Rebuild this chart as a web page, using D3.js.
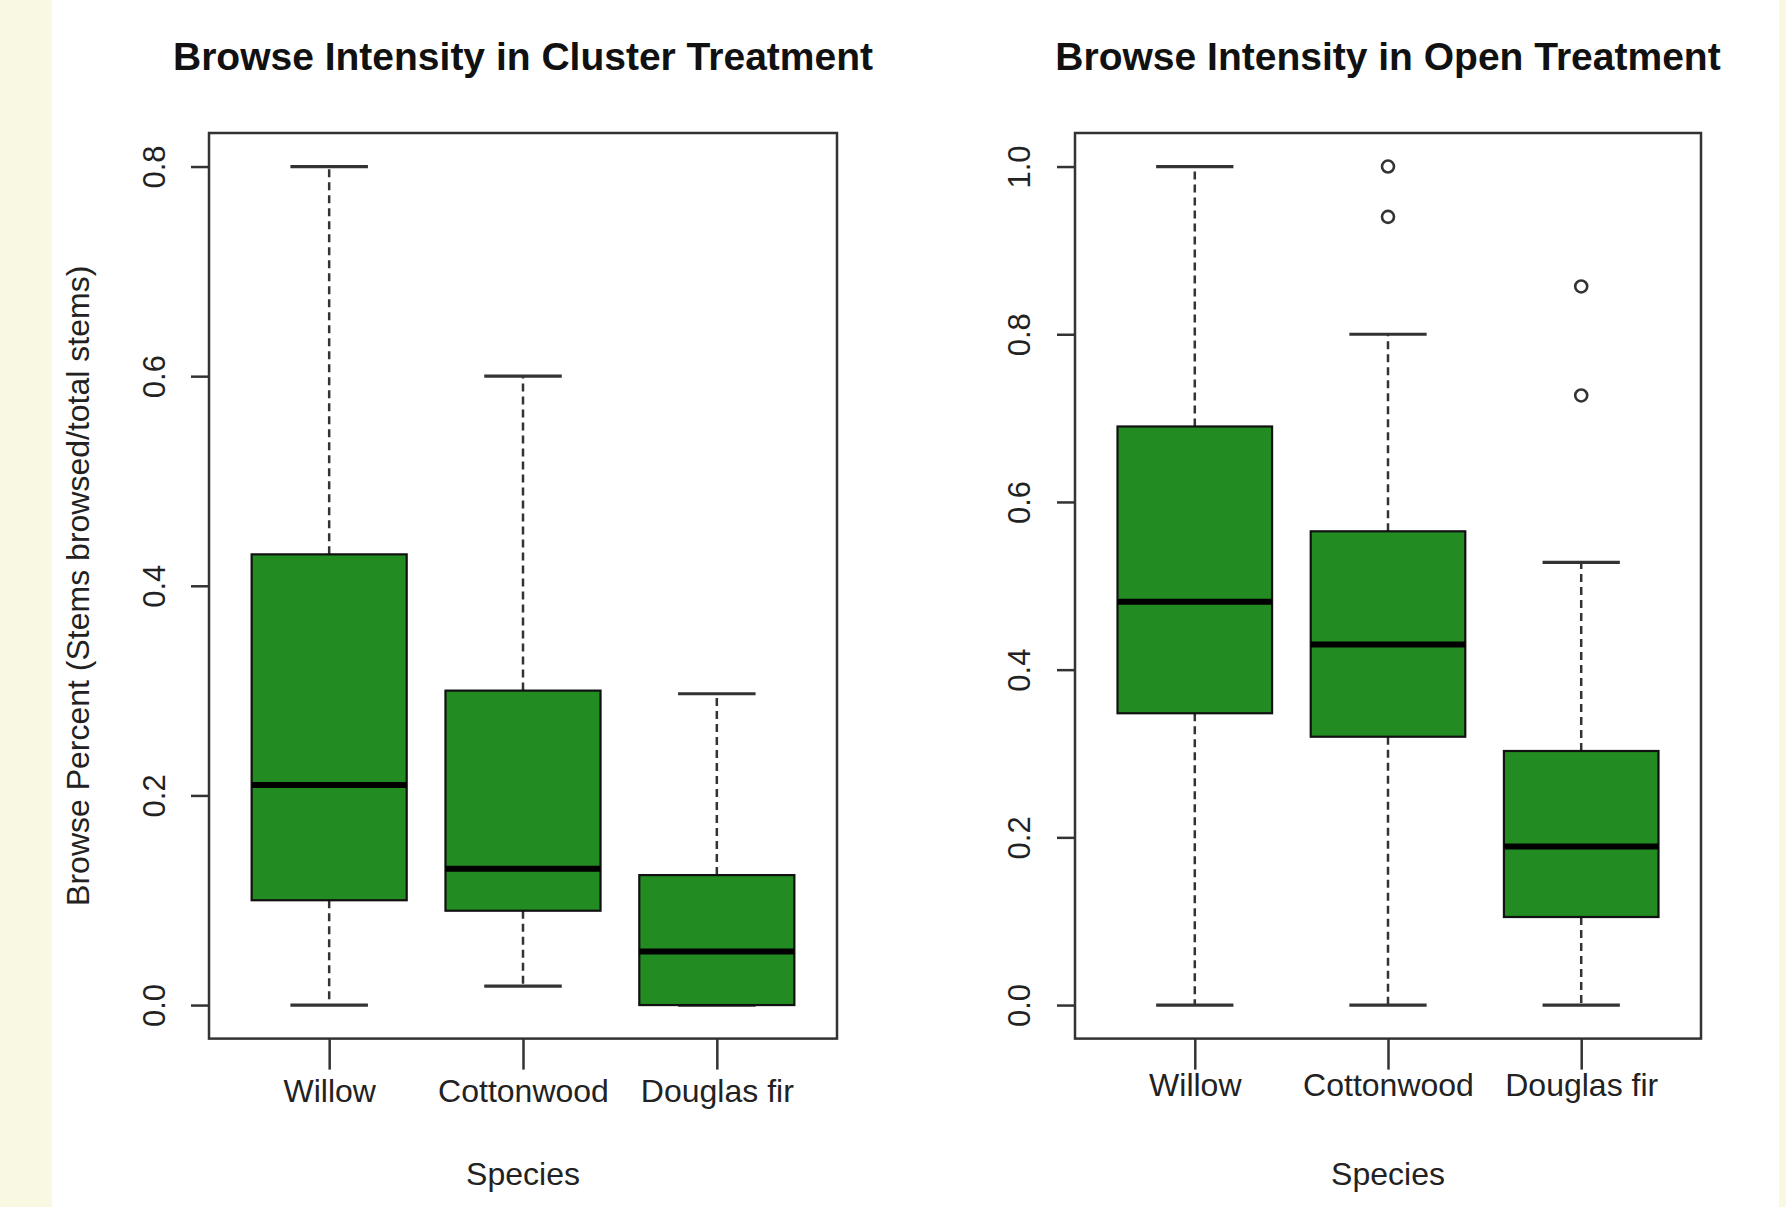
<!DOCTYPE html>
<html lang="en">
<head>
    <meta charset="UTF-8">
    <title>Browse Intensity</title>
    <script src="https://d3js.org/d3.v7.min.js"></script>
    <style>
        body { margin: 0; background: #ffffff; }
        svg { display: block; font-family: "Liberation Sans", Arial, sans-serif; }
        .title { font-size: 39px; font-weight: bold; fill: #111; text-anchor: middle; }
        .axis-label { font-size: 32px; fill: #222; text-anchor: middle; }
        .axis text { font-size: 31px; fill: #222; font-family: "Liberation Sans", Arial, sans-serif; }
        .axis line { stroke: #333; stroke-width: 2.5; }
        .frame { fill: none; stroke: #333; stroke-width: 2.5; }
        .whisker { stroke: #333; stroke-width: 2.5; stroke-dasharray: 8,5; }
        .cap { stroke: #333; stroke-width: 3.2; }
        .box { fill: #228B22; stroke: #111; stroke-width: 2.2; }
        .median { stroke: #000; stroke-width: 6; }
        .outlier { fill: none; stroke: #333; stroke-width: 2.6; }
    </style>
</head>
<body>
    <svg width="1786" height="1207"></svg>
    <script>
        // data
        const species = ["Willow", "Cottonwood", "Douglas fir"];

        const clusterLow    = [0.000, 0.018, 0.000];
        const clusterQ1     = [0.100, 0.090, 0.000];
        const clusterMedian = [0.210, 0.130, 0.051];
        const clusterQ3     = [0.430, 0.300, 0.124];
        const clusterHigh   = [0.800, 0.600, 0.297];
        const clusterOut    = [[], [], []];
        const clusterTicks  = [0.0, 0.2, 0.4, 0.6, 0.8];

        const openLow    = [0.000, 0.000, 0.000];
        const openQ1     = [0.348, 0.320, 0.105];
        const openMedian = [0.481, 0.430, 0.189];
        const openQ3     = [0.690, 0.565, 0.303];
        const openHigh   = [1.000, 0.800, 0.528];
        const openOut    = [[], [1.0, 0.94], [0.857, 0.727]];
        const openTicks  = [0.0, 0.2, 0.4, 0.6, 0.8, 1.0];

        const svg = d3.select("svg");
        svg.append("rect").attr("width", 1786).attr("height", 1207).attr("fill", "#fff");
        svg.append("rect").attr("x", 0).attr("width", 52).attr("height", 1207).attr("fill", "#F8F8E3");
        svg.append("rect").attr("x", 1779).attr("width", 7).attr("height", 1207).attr("fill", "#F8F8E3");

        const plotTop = 133, plotBottom = 1038.6;

        function drawPanel(opt) {
            const x = d3.scalePoint()
                .domain(species)
                .range([opt.left, opt.right])
                .padding(0.62);
            const step = x.step();
            const pad = (opt.ymax - opt.ymin) * 0.04;
            const y = d3.scaleLinear()
                .domain([opt.ymin - pad, opt.ymax + pad])
                .range([plotBottom, plotTop]);

            const rows = species.map((s, i) => ({
                name: s, low: opt.low[i], q1: opt.q1[i], med: opt.median[i],
                q3: opt.q3[i], high: opt.high[i], out: opt.out[i]
            }));

            const g = svg.append("g");

            // y axis
            const ya = g.append("g")
                .attr("class", "axis")
                .attr("transform", `translate(${opt.left},0)`)
                .call(d3.axisLeft(y).tickValues(opt.ticks).tickSize(18).tickFormat(d3.format(".1f")));
            ya.select(".domain").remove();
            ya.selectAll("text")
                .attr("x", 0).attr("y", 0).attr("dy", null)
                .attr("text-anchor", "middle")
                .attr("transform", `translate(${opt.ylabX},0) rotate(-90)`);

            // x axis
            const xa = g.append("g")
                .attr("class", "axis")
                .attr("transform", `translate(0,${plotBottom})`)
                .call(d3.axisBottom(x).tickSize(31));
            xa.select(".domain").remove();
            xa.selectAll("text")
                .attr("y", opt.xlabY).attr("dy", null)
                .style("font-size", "32px");

            // whiskers
            g.selectAll(".whisker-up").data(rows).enter().append("line")
                .attr("class", "whisker")
                .attr("x1", d => x(d.name)).attr("x2", d => x(d.name))
                .attr("y1", d => y(d.q3)).attr("y2", d => y(d.high));
            g.selectAll(".whisker-down").data(rows).enter().append("line")
                .attr("class", "whisker")
                .attr("x1", d => x(d.name)).attr("x2", d => x(d.name))
                .attr("y1", d => y(d.q1)).attr("y2", d => y(d.low));

            // staples
            ["high", "low"].forEach(k => {
                g.selectAll(".cap-" + k).data(rows).enter().append("line")
                    .attr("class", "cap")
                    .attr("x1", d => x(d.name) - step * 0.2)
                    .attr("x2", d => x(d.name) + step * 0.2)
                    .attr("y1", d => y(d[k])).attr("y2", d => y(d[k]));
            });

            // boxes
            g.selectAll(".box").data(rows).enter().append("rect")
                .attr("class", "box")
                .attr("x", d => x(d.name) - step * 0.4)
                .attr("width", step * 0.8)
                .attr("y", d => y(d.q3))
                .attr("height", d => y(d.q1) - y(d.q3));

            g.selectAll(".median").data(rows).enter().append("line")
                .attr("class", "median")
                .attr("x1", d => x(d.name) - step * 0.4)
                .attr("x2", d => x(d.name) + step * 0.4)
                .attr("y1", d => y(d.med)).attr("y2", d => y(d.med));

            // outliers
            const outs = rows.flatMap(d => d.out.map(v => ({ name: d.name, v: v })));
            g.selectAll(".outlier").data(outs).enter().append("circle")
                .attr("class", "outlier")
                .attr("cx", d => x(d.name))
                .attr("cy", d => y(d.v))
                .attr("r", 6);

            // frame
            g.append("rect")
                .attr("class", "frame")
                .attr("x", opt.left).attr("y", plotTop)
                .attr("width", opt.right - opt.left)
                .attr("height", plotBottom - plotTop);

            g.append("text")
                .attr("class", "title")
                .attr("x", (opt.left + opt.right) / 2)
                .attr("y", 70)
                .text(opt.title);

            g.append("text")
                .attr("class", "axis-label")
                .attr("x", (opt.left + opt.right) / 2)
                .attr("y", 1185)
                .text("Species");

            if (opt.ytitle) {
                g.append("text")
                    .attr("class", "axis-label")
                    .attr("transform", `translate(89,${(plotTop + plotBottom) / 2}) rotate(-90)`)
                    .text(opt.ytitle);
            }
        }

        drawPanel({
            left: 209, right: 837, ymin: 0, ymax: 0.8,
            low: clusterLow, q1: clusterQ1, median: clusterMedian, q3: clusterQ3,
            high: clusterHigh, out: clusterOut, ticks: clusterTicks,
            ylabX: -44, xlabY: 63,
            title: "Browse Intensity in Cluster Treatment",
            ytitle: "Browse Percent (Stems browsed/total stems)"
        });

        drawPanel({
            left: 1075, right: 1701, ymin: 0, ymax: 1.0,
            low: openLow, q1: openQ1, median: openMedian, q3: openQ3,
            high: openHigh, out: openOut, ticks: openTicks,
            ylabX: -45, xlabY: 57,
            title: "Browse Intensity in Open Treatment",
            ytitle: null
        });
    </script>
</body>
</html>
